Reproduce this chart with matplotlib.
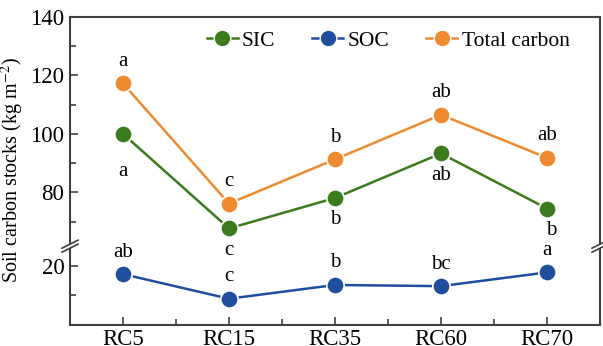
import numpy as np
import matplotlib
matplotlib.use("Agg")
import matplotlib.pyplot as plt
from matplotlib.lines import Line2D
from matplotlib.patches import Polygon

plt.rcParams['font.family'] = ['Liberation Serif', 'DejaVu Serif']
plt.rcParams['mathtext.fontset'] = 'stix'

categories = ["RC5", "RC15", "RC35", "RC60", "RC70"]
sic = [100.0, 67.7, 78.1, 93.3, 74.5]
soc = [17.2, 8.8, 13.5, 13.1, 17.8]
total = [117.2, 76.2, 91.3, 106.5, 91.8]
sic_letters = ["a", "c", "b", "ab", "b"]
soc_letters = ["ab", "c", "b", "bc", "a"]
total_letters = ["a", "c", "b", "ab", "ab"]
yticks_major = [20, 80, 100, 120, 140]
yticks_minor = [10, 70, 90, 110, 130]

GREEN = "#3a7b1e"
BLUE = "#1e4e9d"
ORANGE = "#f08a2f"
SPINE = "#404040"

# broken y axis: values in (26.4, 61.4) are collapsed
xp = [-1000.0, 26.4, 61.4, 1000.0]
fp = [-1000.0, 26.4, 26.5, 1000.0 - 34.9]

def fwd(y):
    return np.interp(y, xp, fp)

def inv(y):
    return np.interp(y, fp, xp)

fig = plt.figure(figsize=(6.03, 3.46), dpi=100)
ax = fig.add_axes([70 / 603, 1 - 324.5 / 346, 530 / 603, (324.5 - 16.7) / 346])
ax.set_yscale('function', functions=(fwd, inv))

x = np.arange(len(categories))
ms = 12.5
for vals, col in [(sic, GREEN), (soc, BLUE), (total, ORANGE)]:
    ax.plot(x, vals, color=col, lw=1.8, marker='o', ms=ms,
            markeredgecolor='white', markeredgewidth=1.2, zorder=3)

ax.set_xlim(-0.5, len(categories) - 0.5)
ax.set_ylim(0, 140)
ax.set_xticks(x)
ax.set_xticklabels(categories)
ax.set_xticks(x[:-1] + 0.5, minor=True)
ax.set_yticks(yticks_major)
ax.set_yticks(yticks_minor, minor=True)

ax.tick_params(axis='both', which='both', direction='in', color=SPINE,
               width=1.2, labelsize=16.5, pad=4)
ax.tick_params(axis='x', which='both', pad=3)
ax.tick_params(which='major', length=5.5)
ax.tick_params(which='minor', length=4)
for s in ax.spines.values():
    s.set_color(SPINE)
    s.set_linewidth(1.5)

ax.set_ylabel("Soil carbon stocks (kg m$^{-2}$)", fontsize=14.5, labelpad=3)

# letters
fs = 15
off = 9
for i in range(len(categories)):
    ax.annotate(total_letters[i], (x[i], total[i]), xytext=(0, off), textcoords='offset points',
                ha='center', va='bottom', fontsize=fs)
    ax.annotate(soc_letters[i], (x[i], soc[i]), xytext=(0, off), textcoords='offset points',
                ha='center', va='bottom', fontsize=fs)
    if i == 0:
        ax.annotate(sic_letters[i], (x[i], sic[i]), xytext=(0, -20), textcoords='offset points',
                    ha='center', va='top', fontsize=fs)
    else:
        dx = 3 if i == 4 else 0
        ax.annotate(sic_letters[i], (x[i], sic[i]), xytext=(dx, -off), textcoords='offset points',
                    ha='center', va='top', fontsize=fs)

# break marks
inv_fig = fig.transFigure.inverted()
for xs in (0, 1):
    bx = ax.transAxes.transform((xs, 0))[0]
    by = ax.transData.transform((0, 26.45))[1]
    pts_a = [(bx - 8, by - 5), (bx + 8, by + 3)]
    pts_b = [(bx - 8, by - 1), (bx + 8, by + 7)]
    poly = Polygon([inv_fig.transform(p) for p in [pts_a[0], pts_a[1], pts_b[1], pts_b[0]]],
                   closed=True, transform=fig.transFigure, facecolor='white',
                   edgecolor='none', zorder=5, clip_on=False)
    fig.add_artist(poly)
    for pts in (pts_a, pts_b):
        p = [inv_fig.transform(q) for q in pts]
        fig.add_artist(Line2D([p[0][0], p[1][0]], [p[0][1], p[1][1]], transform=fig.transFigure,
                              color=SPINE, lw=1.2, zorder=6))

handles = [Line2D([], [], color=c, lw=1.8, marker='o', ms=12, markeredgecolor='white',
                  markeredgewidth=1.0) for c in (GREEN, BLUE, ORANGE)]
ax.legend(handles, ["SIC", "SOC", "Total carbon"], loc='upper center', ncol=3,
          frameon=False, fontsize=15.5, handlelength=1.45, handletextpad=0.2,
          columnspacing=1.7, bbox_to_anchor=(0.6, 1.0), borderaxespad=0.25)

fig.savefig("out.png", dpi=100)
